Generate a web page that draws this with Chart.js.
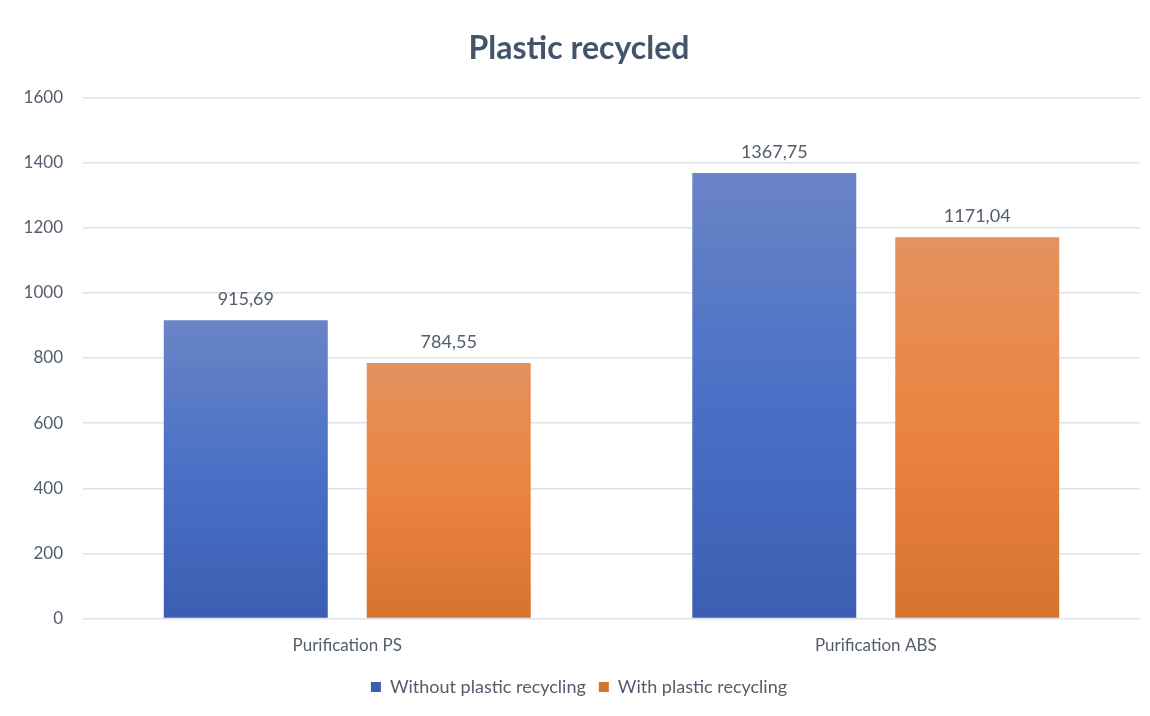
<!DOCTYPE html>
<html lang="en">
<head>
<meta charset="UTF-8">
<title>Plastic recycled</title>
<script src="https://cdn.jsdelivr.net/npm/chart.js"></script>
<style>
    * { margin: 0; padding: 0; }
    body { background: #ffffff; width: 1150px; height: 716px; overflow: hidden; }
    #wrap { width: 1150px; height: 716px; position: relative; }
</style>
</head>
<body>
<div id="wrap"><canvas id="chart"></canvas></div>
<script>
const categories = ['Purification PS', 'Purification ABS'];
const withoutRecycling = [915.69, 1367.75];
const withRecycling = [784.55, 1171.04];
const seriesNames = ['Without plastic recycling', 'With plastic recycling'];
const yTicks = [0, 200, 400, 600, 800, 1000, 1200, 1400, 1600];

const textColor = '#535d6c';
const fontName = 'Lato, "Open Sans", sans-serif';

// gradient per bar: lighter at the top, darker at the bottom
function barGradient(top, mid, bottom) {
    return (ctx) => {
        const chart = ctx.chart;
        const y = chart.scales.y;
        if (!y || ctx.raw === undefined) return mid;
        const y0 = y.getPixelForValue(ctx.raw);
        const y1 = y.getPixelForValue(0);
        if (!isFinite(y0) || !isFinite(y1) || y0 === y1) return mid;
        const g = chart.ctx.createLinearGradient(0, y0, 0, y1);
        g.addColorStop(0, top);
        g.addColorStop(0.5, mid);
        g.addColorStop(1, bottom);
        return g;
    };
}

const valueLabels = {
    id: 'valueLabels',
    afterDatasetsDraw(chart) {
        const c = chart.ctx;
        c.save();
        c.font = '18px ' + fontName;
        c.fillStyle = textColor;
        c.textAlign = 'center';
        c.textBaseline = 'bottom';
        chart.data.datasets.forEach((ds, i) => {
            chart.getDatasetMeta(i).data.forEach((bar, j) => {
                c.fillText(ds.data[j].toFixed(2).replace('.', ','), bar.x, bar.y - 12);
            });
        });
        c.restore();
    }
};

new Chart(document.getElementById('chart'), {
    type: 'bar',
    data: {
        labels: categories,
        datasets: [{
            label: seriesNames[0],
            data: withoutRecycling,
            backgroundColor: barGradient('#6a84c7', '#4a70c6', '#3c5eb2'),
            borderWidth: 0
        }, {
            label: seriesNames[1],
            data: withRecycling,
            backgroundColor: barGradient('#e3925f', '#ea8440', '#d8722f'),
            borderWidth: 0
        }]
    },
    options: {
        responsive: true,
        maintainAspectRatio: false,
        animation: false,
        categoryPercentage: 0.768,
        barPercentage: 0.808,
        layout: { padding: { left: 18, right: 10, top: 21, bottom: 10 } },
        plugins: {
            title: {
                display: true,
                text: 'Plastic recycled',
                color: '#44546a',
                font: { family: fontName, size: 32, weight: 'bold' },
                padding: { top: 8, bottom: 30 }
            },
            legend: {
                position: 'bottom',
                labels: {
                    color: textColor,
                    font: { family: fontName, size: 18 },
                    boxWidth: 10,
                    boxHeight: 10,
                    padding: 13
                }
            },
            tooltip: { enabled: false }
        },
        scales: {
            x: {
                grid: { display: false },
                border: { color: '#dfe2e8', width: 1 },
                ticks: {
                    color: textColor,
                    font: { family: fontName, size: 17 },
                    padding: 9
                }
            },
            y: {
                min: 0,
                max: 1600,
                afterBuildTicks: (axis) => { axis.ticks = yTicks.map(v => ({ value: v })); },
                afterFit: (axis) => { axis.width = 65; },
                grid: { color: '#dfe2e8', lineWidth: 1.5, drawTicks: false },
                border: { display: false },
                ticks: {
                    color: textColor,
                    font: { family: fontName, size: 17 },
                    padding: 20,
                    callback: (v) => String(v)
                }
            }
        }
    },
    plugins: [valueLabels]
});
</script>
</body>
</html>
